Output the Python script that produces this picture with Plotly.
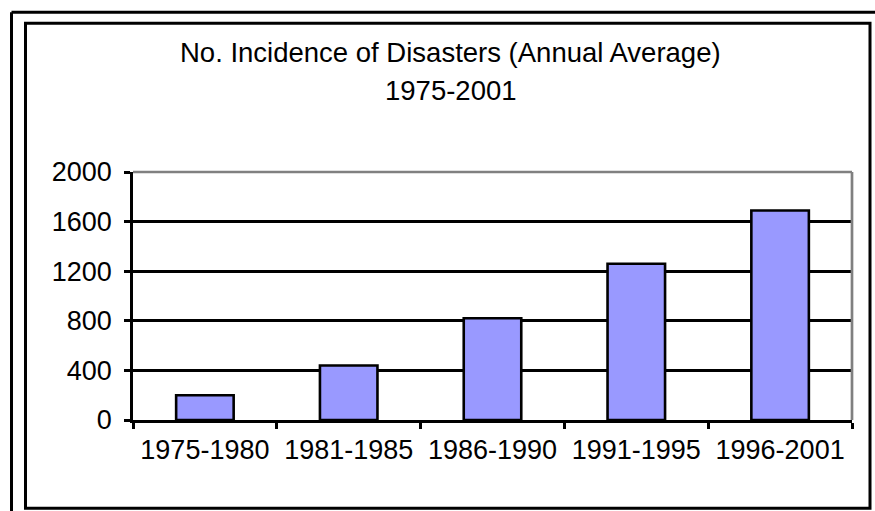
import plotly.graph_objects as go

# ---- data ----
categories = ["1975-1980", "1981-1985", "1986-1990", "1991-1995", "1996-2001"]
values = [200, 440, 820, 1260, 1690]
y_tick_values = [0, 400, 800, 1200, 1600, 2000]
title_line1 = "No. Incidence of Disasters (Annual Average)"
title_line2 = "1975-2001"

W, H = 875, 511
L, R, T, B = 133, 852, 171.5, 420  # plot area in pixels

def px(x):
    return (x - L) / (R - L)

def py(y):
    return (B - y) / (B - T)

FONT = "Arial, 'Liberation Sans', sans-serif"

fig = go.Figure()
fig.add_trace(go.Bar(
    x=categories, y=values,
    marker=dict(color="#9999FF", line=dict(color="black", width=2.6)),
    width=0.4,
))

shapes = [
    # outer frame (partial, extends beyond image)
    dict(type="line", xref="paper", yref="paper", x0=px(11.5), x1=px(11.5), y0=py(11.5), y1=py(520),
         line=dict(color="black", width=3)),
    dict(type="line", xref="paper", yref="paper", x0=px(11.5), x1=px(890), y0=py(11.5), y1=py(11.5),
         line=dict(color="black", width=3)),
    # inner frame
    dict(type="rect", xref="paper", yref="paper", x0=px(25.5), x1=px(870), y0=py(22.5), y1=py(508.5),
         line=dict(color="black", width=3), layer="below"),
    # grey plot border top and right
    dict(type="line", xref="paper", yref="paper", x0=0, x1=1, y0=1, y1=1,
         line=dict(color="#808080", width=2.7), layer="above"),
    dict(type="line", xref="paper", yref="paper", x0=1, x1=1, y0=0, y1=1,
         line=dict(color="#808080", width=2.7), layer="above"),
]

annotations = [
    dict(text=title_line1, xref="paper", yref="paper", x=px(450), y=py(52),
         showarrow=False, xanchor="center", yanchor="middle",
         font=dict(family=FONT, size=27.5, color="black")),
    dict(text=title_line2, xref="paper", yref="paper", x=px(451), y=py(90),
         showarrow=False, xanchor="center", yanchor="middle",
         font=dict(family=FONT, size=27.5, color="black")),
]

fig.update_layout(
    width=W, height=H,
    margin=dict(l=L, r=W - R, t=T, b=H - B, pad=0),
    paper_bgcolor="white", plot_bgcolor="white",
    showlegend=False,
    shapes=shapes,
    annotations=annotations,
    font=dict(family=FONT, size=27, color="black"),
)

fig.update_xaxes(
    type="category", range=[-0.5, 4.5],
    showline=True, linecolor="black", linewidth=2.7,
    ticks="outside", ticklen=6, tickwidth=2.5, tickcolor="black",
    tickson="boundaries", showgrid=False,
    tickfont=dict(family=FONT, size=27, color="black"),
    ticklabelstandoff=4,
)
fig.update_yaxes(
    range=[0, 2000], tickvals=y_tick_values,
    showline=True, linecolor="black", linewidth=2.7,
    ticks="outside", ticklen=6, tickwidth=2.5, tickcolor="black",
    showgrid=True, gridcolor="black", gridwidth=2.7, zeroline=False,
    tickfont=dict(family=FONT, size=27, color="black"),
    ticklabelstandoff=7,
)

fig.write_html(
    "out.html",
    config={"displayModeBar": False},
    post_script="document.body.style.margin='0';document.body.style.padding='0';",
)
